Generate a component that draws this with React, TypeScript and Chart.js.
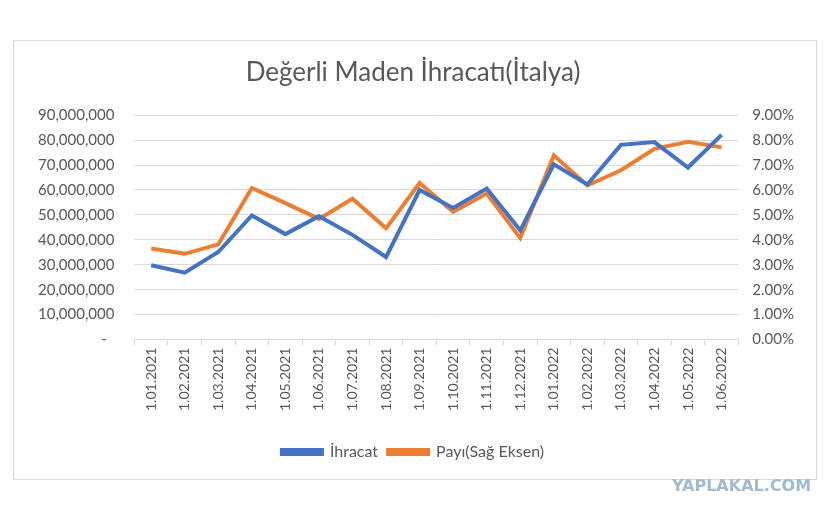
import React, { useEffect, useRef } from "react";
import { Chart, registerables } from "chart.js";

Chart.register(...registerables);

const categories = [
  "1.01.2021", "1.02.2021", "1.03.2021", "1.04.2021", "1.05.2021", "1.06.2021",
  "1.07.2021", "1.08.2021", "1.09.2021", "1.10.2021", "1.11.2021", "1.12.2021",
  "1.01.2022", "1.02.2022", "1.03.2022", "1.04.2022", "1.05.2022", "1.06.2022",
];

const ihracat = [
  29800000, 26800000, 35100000, 49800000, 42300000, 49500000,
  42000000, 33100000, 60000000, 52800000, 60600000, 43800000,
  70300000, 62200000, 78100000, 79200000, 69000000, 82100000,
];

const payi = [
  3.65, 3.44, 3.82, 6.08, 5.47, 4.84,
  5.65, 4.46, 6.28, 5.12, 5.86, 4.07,
  7.39, 6.18, 6.79, 7.65, 7.93, 7.71,
];

const FONT = "Lato, 'Open Sans', sans-serif";
const TEXT = "#595959";
const GRID = "#d9d9d9";

export default function App() {
  const ref = useRef<HTMLCanvasElement | null>(null);

  useEffect(() => {
    if (!ref.current) return;
    const chart = new Chart(ref.current, {
      type: "line",
      data: {
        labels: categories,
        datasets: [
          {
            label: "İhracat",
            data: ihracat,
            borderColor: "#4472C4",
            backgroundColor: "#4472C4",
            borderWidth: 4,
            pointRadius: 0,
            tension: 0,
            yAxisID: "y",
          },
          {
            label: "Payı(Sağ Eksen)",
            data: payi,
            borderColor: "#ED7D31",
            backgroundColor: "#ED7D31",
            borderWidth: 4,
            pointRadius: 0,
            tension: 0,
            yAxisID: "y1",
          },
        ],
      },
      options: {
        animation: false,
        responsive: false,
        layout: { padding: { left: 4, right: 8, top: 0, bottom: 9 } },
        plugins: {
          title: {
            display: true,
            text: "Değerli Maden İhracatı(İtalya)",
            color: TEXT,
            font: { family: FONT, size: 26, weight: "normal" },
            padding: { top: 16, bottom: 27 },
          },
          legend: {
            position: "bottom",
            labels: {
              boxWidth: 40,
              boxHeight: 4,
              color: TEXT,
              font: { family: FONT, size: 16 },
              padding: 10,
            },
          },
          tooltip: { enabled: false },
        },
        scales: {
          x: {
            offset: true,
            afterFit: (scale: any) => {
              scale.height += 21;
            },
            grid: {
              drawOnChartArea: false,
              offset: true,
              tickLength: 6,
              color: GRID,
            },
            border: { color: GRID },
            ticks: {
              autoSkip: false,
              minRotation: 90,
              maxRotation: 90,
              color: TEXT,
              font: { family: FONT, size: 14 },
              padding: 2,
            },
          },
          y: {
            position: "left",
            min: 0,
            max: 90000000,
            grid: { color: GRID, drawTicks: false },
            border: { display: false },
            ticks: {
              stepSize: 10000000,
              color: TEXT,
              font: { family: FONT, size: 15 },
              padding: 20,
              callback: (v: any) =>
                Number(v) === 0 ? "-  " : Number(v).toLocaleString("en-US"),
            },
          },
          y1: {
            position: "right",
            min: 0,
            max: 9,
            grid: { drawOnChartArea: false, drawTicks: false },
            border: { display: false },
            ticks: {
              stepSize: 1,
              color: TEXT,
              font: { family: FONT, size: 15 },
              padding: 14,
              callback: (v: any) => Number(v).toFixed(2) + "%",
            },
          },
        },
      },
    });
    return () => chart.destroy();
  }, []);

  return (
    <div style={{ position: "relative", width: 818, height: 500 }}>
      <div
        style={{
          position: "absolute",
          left: 5,
          top: 32,
          width: 804,
          height: 440,
          border: "1px solid #d9d9d9",
          boxSizing: "border-box",
          background: "#fff",
        }}
      >
        <canvas ref={ref} width={802} height={438} style={{ display: "block" }} />
      </div>
      <div
        style={{
          position: "absolute",
          left: 664,
          top: 468,
          fontFamily: "'DejaVu Sans', sans-serif",
          fontWeight: "bold",
          fontSize: 16,
          color: "#a3b9ce",
        }}
      >
        YAPLAKAL.COM
      </div>
    </div>
  );
}
